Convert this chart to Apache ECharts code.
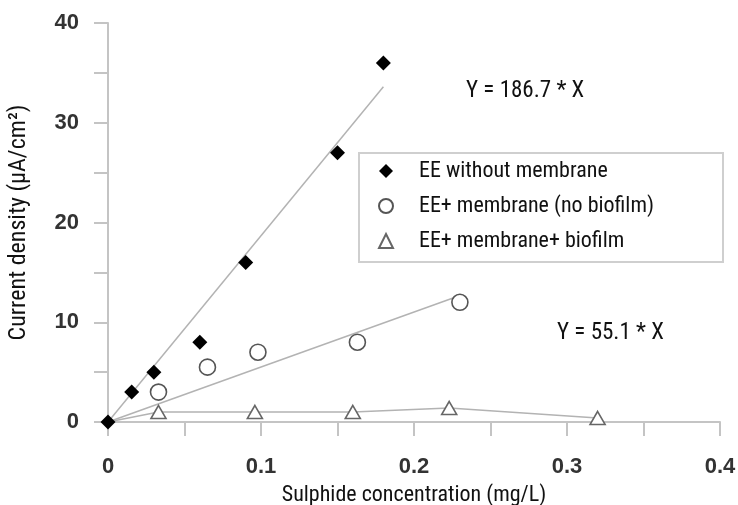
<!DOCTYPE html>
<html>
<head>
<meta charset="utf-8">
<script src="https://cdn.jsdelivr.net/npm/echarts@6/dist/echarts.min.js"></script>
<style>
  html, body { margin: 0; padding: 0; background: #fff; }
  #chart { width: 738px; height: 505px; }
</style>
</head>
<body>
<div id="chart"></div>
<script>
// values
const diamondX = [0, 0.0155, 0.03, 0.06, 0.09, 0.15, 0.18];
const diamondY = [0, 3, 5, 8, 16, 27, 36];
const circleX = [0.033, 0.065, 0.098, 0.163, 0.23];
const circleY = [3, 5.5, 7, 8, 12];
const triangleX = [0.033, 0.096, 0.16, 0.223, 0.32];
const triangleY = [1, 1, 1, 1.4, 0.4];
const fitDiamond = [[0, 0], [0.18, 33.6]];
const fitCircle = [[0, 0], [0.226, 12.45]];
const names = ['EE without membrane', 'EE+ membrane (no biofilm)', 'EE+ membrane+ biofilm'];

const narrow = "'Roboto Condensed', 'Liberation Sans Narrow', 'DejaVu Sans Condensed', sans-serif";
const axisGray = '#c4c4c4';
const fitGray = '#b3b3b3';

const pairs = (xs, ys) => xs.map((x, i) => [x, ys[i]]);

const chart = echarts.init(document.getElementById('chart'));
const option = {
  animation: false,
  backgroundColor: '#fff',
  grid: { left: 108, right: 18, top: 23, bottom: 83, containLabel: false, outerBoundsMode: 'none' },
  legend: {
    data: names,
    orient: 'vertical',
    left: 359,
    top: 153,
    padding: [7, 69, 10, 19],
    itemGap: 13,
    itemWidth: 14,
    itemHeight: 14,
    borderColor: '#cfcfcf',
    borderWidth: 2,
    textStyle: {
      fontFamily: narrow,
      fontSize: 22,
      color: '#111',
      padding: [0, 0, 0, 21]
    }
  },
  xAxis: {
    type: 'value',
    min: 0,
    max: 0.4,
    interval: 0.05,
    name: 'Sulphide concentration (mg/L)',
    nameLocation: 'middle',
    nameGap: 62,
    nameTextStyle: { fontFamily: narrow, fontSize: 22, color: '#111' },
    splitLine: { show: false },
    axisLine: { onZero: false, lineStyle: { color: axisGray, width: 2 } },
    axisTick: { length: 14, lineStyle: { color: axisGray, width: 2 } },
    axisLabel: {
      margin: 34,
      fontFamily: 'Liberation Sans, Arial, sans-serif',
      fontWeight: 'bold',
      fontSize: 22,
      color: '#333',
      formatter: v => {
        const t = v * 10;
        return Math.abs(t - Math.round(t)) < 1e-6 ? String(+v.toFixed(1)) : '';
      }
    }
  },
  yAxis: {
    type: 'value',
    min: 0,
    max: 40,
    interval: 5,
    name: 'Current density (μA/cm²)',
    nameLocation: 'middle',
    nameGap: 77,
    nameTextStyle: { fontFamily: narrow, fontSize: 24, color: '#111' },
    splitLine: { show: false },
    axisLine: { onZero: false, lineStyle: { color: axisGray, width: 2 } },
    axisTick: { length: 14, lineStyle: { color: axisGray, width: 2 } },
    axisLabel: {
      margin: 29,
      fontFamily: 'Liberation Sans, Arial, sans-serif',
      fontWeight: 'bold',
      fontSize: 22,
      color: '#333',
      formatter: v => (v % 10 === 0 ? String(v) : '')
    }
  },
  graphic: [
    {
      type: 'text', left: 466, top: 80,
      style: { text: 'Y = 186.7 * X', font: '23px ' + narrow, fill: '#111' }
    },
    {
      type: 'text', left: 557, top: 322,
      style: { text: 'Y = 55.1 * X', font: '23px ' + narrow, fill: '#111' }
    }
  ],
  series: [
    {
      type: 'line', data: fitDiamond, showSymbol: false, silent: true, z: 1,
      lineStyle: { color: fitGray, width: 1.5 }
    },
    {
      type: 'line', data: fitCircle, showSymbol: false, silent: true, z: 1,
      lineStyle: { color: fitGray, width: 1.5 }
    },
    {
      type: 'line', data: [[0, 0]].concat(pairs(triangleX, triangleY)),
      showSymbol: false, silent: true, z: 1,
      lineStyle: { color: fitGray, width: 1.5 }
    },
    {
      name: names[2], type: 'scatter', symbol: 'triangle', symbolSize: [15, 13], z: 3,
      data: pairs(triangleX, triangleY),
      itemStyle: { color: '#fff', borderColor: '#666', borderWidth: 1.6, opacity: 1 }
    },
    {
      name: names[1], type: 'scatter', symbol: 'circle', symbolSize: 16, z: 3,
      data: pairs(circleX, circleY),
      itemStyle: { color: '#fff', borderColor: '#555', borderWidth: 1.6, opacity: 1 }
    },
    {
      name: names[0], type: 'scatter', symbol: 'diamond', symbolSize: 15, z: 4,
      data: pairs(diamondX, diamondY),
      itemStyle: { color: '#000', opacity: 1 }
    }
  ]
};
chart.setOption(option);
</script>
</body>
</html>
